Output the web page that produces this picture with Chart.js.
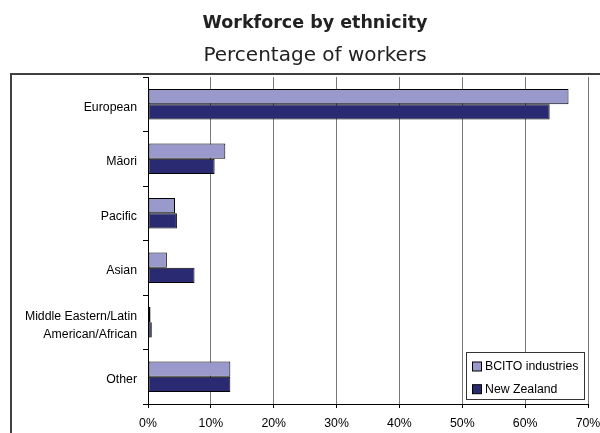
<!DOCTYPE html>
<html lang="en">
<head>
    <meta charset="UTF-8">
    <title>Workforce by ethnicity</title>
    <script src="https://cdn.jsdelivr.net/npm/chart.js"></script>
    <style>
        body {
            margin: 0;
            background-color: #fff;
        }
        #wrap {
            position: relative;
            width: 600px;
            height: 433px;
        }
    </style>
</head>
<body>
    <div id="wrap">
        <canvas id="ethnicityChart"></canvas>
    </div>

    <script>
        const categories = ['European', 'Māori', 'Pacific', 'Asian', ['Middle Eastern/Latin', 'American/African'], 'Other'];
        const bcitoValues = [66.9, 12.3, 4.3, 3.0, 0.4, 13.1];
        const nzValues = [63.9, 10.6, 4.6, 7.4, 0.6, 13.1];
        const seriesNames = ['BCITO industries', 'New Zealand'];
        const chartTitle = 'Workforce by ethnicity';
        const chartSubtitle = 'Percentage of workers';

        const axisFont = { family: "'Liberation Sans', Arial, sans-serif", size: 12.3 };

        // outer frame (top + left edge visible) and the two heading lines
        const framePlugin = {
            id: 'frame',
            beforeDraw(chart) {
                const ctx = chart.ctx;
                ctx.save();
                ctx.strokeStyle = '#404040';
                ctx.lineWidth = 2;
                ctx.beginPath();
                ctx.moveTo(11, 440);
                ctx.lineTo(11, 74);
                ctx.lineTo(610, 74);
                ctx.stroke();

                ctx.textAlign = 'center';
                ctx.textBaseline = 'middle';
                ctx.fillStyle = '#222';
                ctx.font = "bold 17.5px 'DejaVu Sans', sans-serif";
                ctx.fillText(chartTitle, 315, 23);
                ctx.font = "20px 'DejaVu Sans', sans-serif";
                ctx.fillText(chartSubtitle, 315, 56);
                ctx.restore();
            }
        };

        // legend box sitting inside the plot, bottom right
        const boxLegendPlugin = {
            id: 'boxLegend',
            afterDraw(chart) {
                const ctx = chart.ctx;
                const area = chart.chartArea;
                const w = 118, h = 47;
                const x = area.right - 4 - w;
                const y = area.bottom - 5 - h;
                ctx.save();
                ctx.fillStyle = '#fff';
                ctx.fillRect(x, y, w, h);
                ctx.strokeStyle = '#333';
                ctx.lineWidth = 1;
                ctx.strokeRect(x + 0.5, y + 0.5, w, h);
                ctx.font = "12.3px 'Liberation Sans', Arial, sans-serif";
                ctx.textBaseline = 'middle';
                chart.data.datasets.forEach((ds, i) => {
                    const cy = y + 14.5 + i * 22.7;
                    ctx.fillStyle = ds.backgroundColor;
                    ctx.fillRect(x + 6.5, cy - 4.5, 9, 9);
                    ctx.strokeStyle = '#000';
                    ctx.strokeRect(x + 6.5, cy - 4.5, 9, 9);
                    ctx.fillStyle = '#000';
                    ctx.fillText(ds.label, x + 19, cy + 0.5);
                });
                ctx.restore();
            }
        };

        const ctx = document.getElementById('ethnicityChart').getContext('2d');
        new Chart(ctx, {
            type: 'bar',
            data: {
                labels: categories,
                datasets: [
                    {
                        label: seriesNames[0],
                        data: bcitoValues,
                        backgroundColor: '#9999cc',
                        borderColor: '#000',
                        borderWidth: 1,
                        borderSkipped: false
                    },
                    {
                        label: seriesNames[1],
                        data: nzValues,
                        backgroundColor: '#2a2a72',
                        borderColor: '#000',
                        borderWidth: 1,
                        borderSkipped: false
                    }
                ]
            },
            options: {
                indexAxis: 'y',
                responsive: true,
                maintainAspectRatio: false,
                animation: false,
                categoryPercentage: 0.56,
                barPercentage: 1.0,
                layout: {
                    padding: { left: 0, right: 0, top: 77, bottom: 0 }
                },
                plugins: {
                    legend: { display: false },
                    tooltip: { enabled: false }
                },
                scales: {
                    x: {
                        min: 0,
                        max: 70,
                        afterFit(scale) {
                            scale.height = 29;
                            scale.paddingLeft = 0;
                            scale.paddingRight = 12;
                        },
                        ticks: {
                            stepSize: 10,
                            color: '#000',
                            font: axisFont,
                            padding: 8,
                            callback: v => v + '%'
                        },
                        grid: {
                            color: '#777',
                            tickColor: '#000',
                            tickLength: 4,
                            lineWidth: 1
                        },
                        border: { color: '#000', width: 1 }
                    },
                    y: {
                        afterFit(scale) { scale.width = 148; },
                        ticks: {
                            color: '#000',
                            font: { family: axisFont.family, size: 12.3, lineHeight: 1.45 },
                            padding: 6,
                            labelOffset: 3
                        },
                        grid: {
                            offset: true,
                            drawOnChartArea: false,
                            tickColor: '#000',
                            tickLength: 5
                        },
                        border: { color: '#000', width: 1 }
                    }
                }
            },
            plugins: [framePlugin, boxLegendPlugin]
        });
    </script>
</body>
</html>
